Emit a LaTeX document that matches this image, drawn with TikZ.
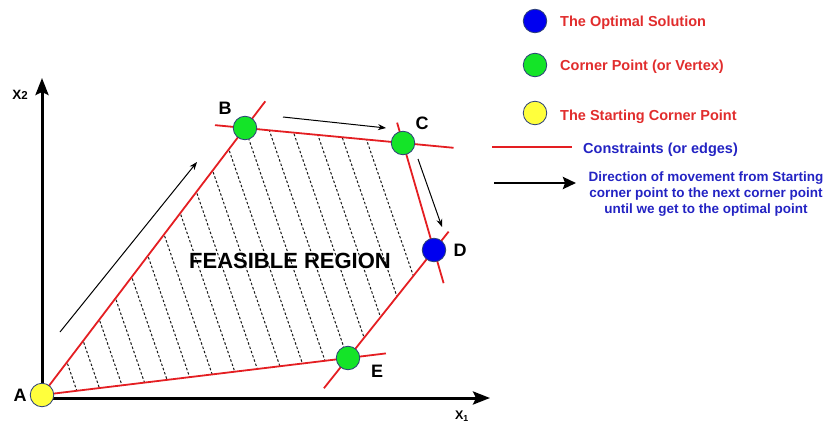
\documentclass[tikz,border=0pt]{standalone}
\usepackage{fontspec}
\setmainfont{Liberation Sans}
\usetikzlibrary{arrows.meta,calc,backgrounds}
\definecolor{cred}{RGB}{228,30,34}
\definecolor{tred}{RGB}{225,45,45}
\definecolor{tblue}{RGB}{35,35,195}
\definecolor{vgreen}{RGB}{20,228,40}
\definecolor{vblue}{RGB}{0,0,240}
\definecolor{vyellow}{RGB}{255,255,60}
\definecolor{vrim}{RGB}{45,65,120}
\tikzset{
  vertex/.style={circle,minimum size=23.5pt,inner sep=0pt,draw=vrim,line width=0.8pt},
  constraint/.style={cred,line width=1.8pt},
  hatchline/.style={black!90,line width=1pt,dash pattern=on 2.5pt off 2pt},
  move/.style={black,line width=1pt,-{Stealth[length=8pt,width=6pt]}},
  axis/.style={black,line width=3pt,-{Stealth[length=17pt,width=13pt,inset=3pt]}},
  lbl/.style={font=\bfseries\fontsize{18}{18}\selectfont,inner sep=0pt},
  legred/.style={font=\bfseries\fontsize{14.5}{16}\selectfont,text=tred,inner sep=0pt,anchor=base west},
  legblue/.style={font=\bfseries\fontsize{14.5}{16}\selectfont,text=tblue,inner sep=0pt,anchor=base west}
}
\begin{document}
\begin{tikzpicture}[x=1pt,y=-1pt]
\useasboundingbox (0,0) rectangle (828,423);
% vertices
\node[vertex,fill=vyellow] (A) at (42,395) {};
\node[vertex,fill=vgreen] (B) at (245,128) {};
\node[vertex,fill=vgreen] (C) at (403,143) {};
\node[vertex,fill=vblue] (D) at (434,250) {};
\node[vertex,fill=vgreen] (E) at (348,358) {};
% vertex labels
\node[lbl] (lA) at (20,395) {A};
\node[lbl] (lB) at (225,108) {B};
\node[lbl] (lC) at (422,123) {C};
\node[lbl] (lD) at (460,250) {D};
\node[lbl] (lE) at (377,371) {E};
% region text
\node[font=\bfseries\fontsize{22}{22}\selectfont,inner sep=0pt] (fr) at (290,261) {FEASIBLE REGION};
% axes labels
\node[font=\bfseries\fontsize{13.5}{14}\selectfont,inner sep=0pt,anchor=base] (x2) at (20,99.5) {X{\fontsize{11.5}{12}\selectfont 2}};
\node[font=\bfseries\fontsize{12.5}{13}\selectfont,inner sep=0pt,anchor=base] (x1) at (462,419.5) {X$_{\mathbf 1}$};
% axes coordinates
\coordinate (ytip) at (42,78);
\coordinate (ybot) at (42,400);
\coordinate (xtip) at (490,398);
\coordinate (xleft) at (40.5,398);
% movement arrows coordinates
\coordinate (m1s) at (60,332);  \coordinate (m1e) at (197,162);
\coordinate (m2s) at (283,117); \coordinate (m2e) at (386,128);
\coordinate (m3s) at (418,159); \coordinate (m3e) at (442,227);
\begin{scope}[on background layer]
  % hatching
  \begin{scope}
    \clip (A.center) -- (B.center) -- (C.center) -- (D.center) -- (E.center) -- cycle;
    \foreach \k in {0,...,16} {
      \draw[hatchline] ({80+23.5*\k},400) -- ({80+23.5*\k-110},80);
    }
  \end{scope}
  % axes
  \draw[axis] (ybot) -- (ytip);
  \draw[axis] (xleft) -- (xtip);
  % constraints
  \draw[constraint] (A.center) -- ($(A.center)!1.1!(B.center)$);
  \draw[constraint] ($(B.center)!-0.19!(C.center)$) -- ($(B.center)!1.32!(C.center)$);
  \draw[constraint] ($(C.center)!-0.19!(D.center)$) -- ($(C.center)!1.31!(D.center)$);
  \draw[constraint] ($(D.center)!-0.17!(E.center)$) -- ($(D.center)!1.28!(E.center)$);
  \draw[constraint] (A.center) -- ($(A.center)!1.124!(E.center)$);
  % movement arrows
  \draw[move] (m1s) -- (m1e);
  \draw[move] (m2s) -- (m2e);
  \draw[move] (m3s) -- (m3e);
\end{scope}
% legend
\node[vertex,fill=vblue] (lg1) at (535,21) {};
\node[vertex,fill=vgreen] (lg2) at (535,65) {};
\node[vertex,fill=vyellow] (lg3) at (535,113) {};
\node[legred] (t1) at (560,26) {The Optimal Solution};
\node[legred] (t2) at (560,70) {Corner Point (or Vertex)};
\node[legred] (t3) at (560,120) {The Starting Corner Point};
\coordinate (lr1) at (492,147); \coordinate (lr2) at (572,147);
\draw[constraint] (lr1) -- (lr2);
\node[legblue] (t4) at (583,153) {Constraints (or edges)};
\coordinate (la1) at (494,183); \coordinate (la2) at (576,183);
\draw[black,line width=2.6pt,-{Stealth[length=13pt,width=12pt,inset=2pt]}] (la1) -- (la2);
\node[font=\bfseries\fontsize{13.5}{16}\selectfont,text=tblue,inner sep=0pt,align=center] (t5) at (706,194.5) {Direction of movement from Starting\\corner point to the next corner point\\until we get to the optimal point};
\end{tikzpicture}
\end{document}
